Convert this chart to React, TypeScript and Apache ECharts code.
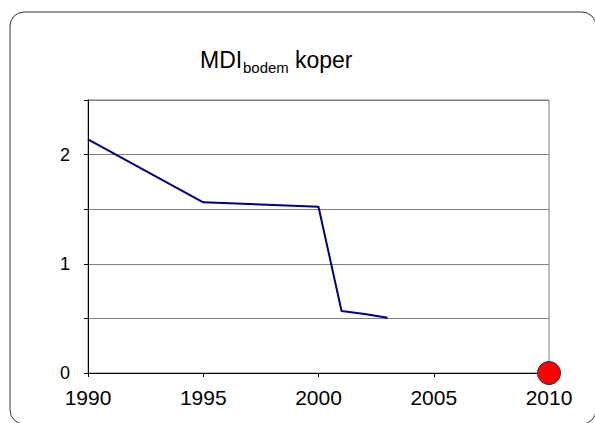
import React, { useEffect, useRef } from "react";
import * as echarts from "echarts";

const years = [1990, 1995, 2000, 2001, 2002, 2003];
const mdiValues = [2.14, 1.563, 1.523, 0.568, 0.54, 0.505];
const targetPoint: [number, number] = [2010, 0];
const yTicks = [0, 1, 2];

export default function App() {
  const ref = useRef<HTMLDivElement>(null);
  useEffect(() => {
    if (!ref.current) return;
    const chart = echarts.init(ref.current, undefined, { renderer: "svg" });
    const font = "'Liberation Sans', Arial, sans-serif";
    chart.setOption({
      animation: false,
      backgroundColor: "#ffffff",
      graphic: [
        {
          type: "rect",
          shape: { x: 10, y: 12, width: 586, height: 412, r: 14 },
          style: { fill: "none", stroke: "#333", lineWidth: 1 },
          z: 0,
        },
        {
          type: "text",
          x: 200,
          y: 60,
          style: { text: "MDI", font: `23px ${font}`, fill: "#000", verticalAlign: "middle" },
        },
        {
          type: "text",
          x: 243,
          y: 67,
          style: { text: "bodem", font: `15px ${font}`, fill: "#000", verticalAlign: "middle" },
        },
        {
          type: "text",
          x: 295,
          y: 60,
          style: { text: "koper", font: `23px ${font}`, fill: "#000", verticalAlign: "middle" },
        },
      ],
      grid: {
        left: 88,
        top: 100,
        right: 46,
        bottom: 50,
        show: true,
        borderColor: "#808080",
        borderWidth: 1,
        backgroundColor: "transparent",
      },
      xAxis: {
        type: "value",
        min: 1990,
        max: 2010,
        interval: 5,
        axisLine: { show: true, onZero: false, lineStyle: { color: "#000", width: 1 } },
        axisTick: { show: true, inside: false, length: 4, lineStyle: { color: "#000" } },
        splitLine: { show: false },
        axisLabel: {
          color: "#000",
          fontSize: 21,
          fontFamily: font,
          margin: 14,
          formatter: (v: number) => String(v),
        },
      },
      yAxis: {
        type: "value",
        min: 0,
        max: 2.5,
        interval: 0.5,
        axisLine: { show: true, onZero: false, lineStyle: { color: "#000", width: 1 } },
        axisTick: { show: true, inside: false, length: 4, lineStyle: { color: "#000" } },
        splitLine: { show: true, lineStyle: { color: "#808080", width: 1 } },
        axisLabel: {
          color: "#000",
          fontSize: 18,
          fontFamily: font,
          margin: 18,
          formatter: (v: number) => (yTicks.includes(v) ? String(v) : ""),
        },
      },
      series: [
        {
          type: "line",
          data: years.map((y, i) => [y, mdiValues[i]]),
          showSymbol: false,
          symbol: "none",
          lineStyle: { color: "#000080", width: 2 },
          z: 3,
        },
        {
          type: "scatter",
          data: [targetPoint],
          symbol: "circle",
          symbolSize: 23,
          clip: false,
          itemStyle: { color: "#ff0000", opacity: 1, borderColor: "#333", borderWidth: 1 },
          z: 10,
          zlevel: 0,
        },
      ],
    });
    return () => chart.dispose();
  }, []);
  return (
    <div
      ref={ref}
      style={{ position: "fixed", left: 0, top: 0, width: 595, height: 423 }}
    />
  );
}
